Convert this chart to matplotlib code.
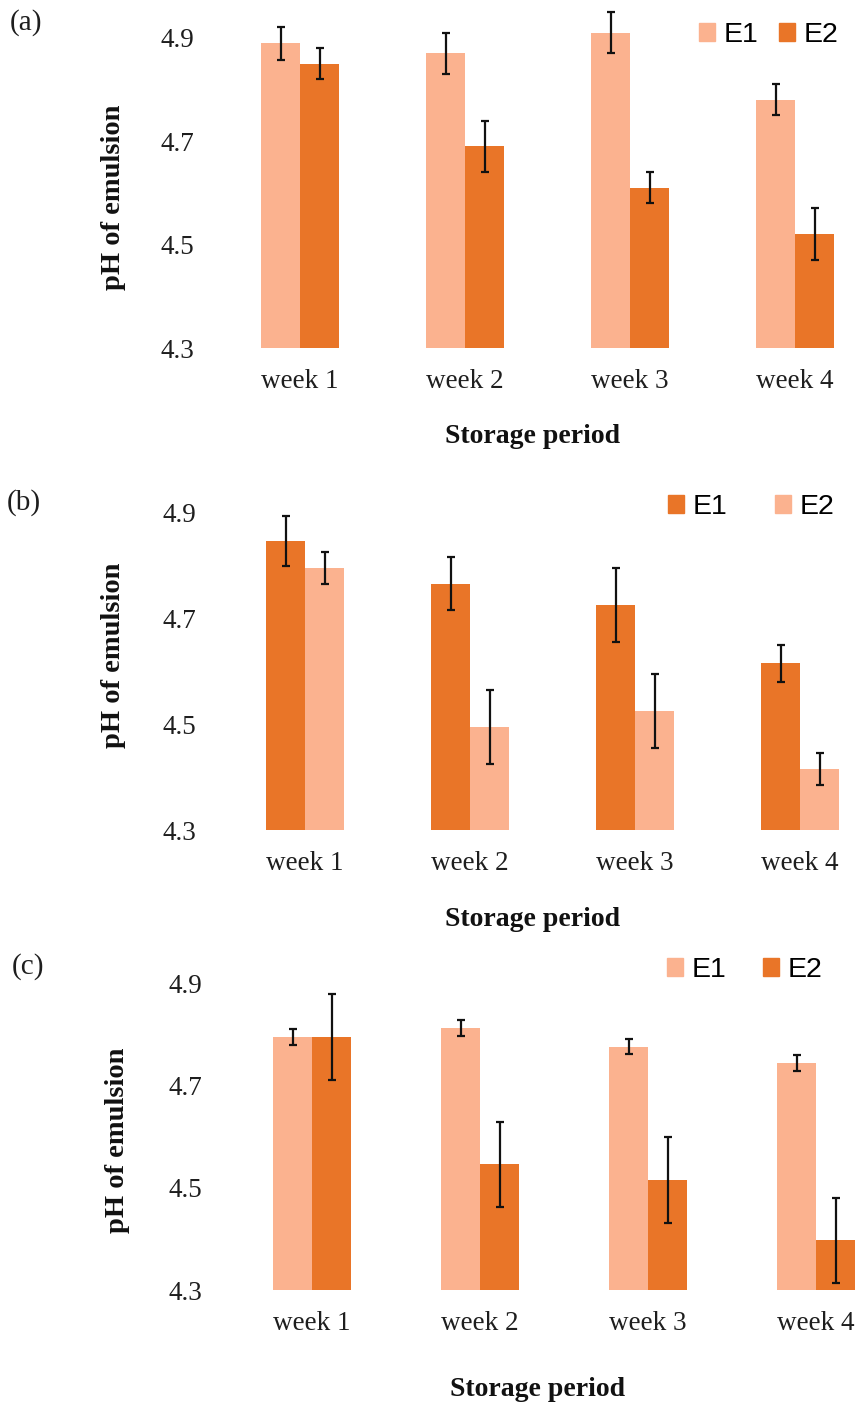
import numpy as np
import matplotlib
matplotlib.use("Agg")
import matplotlib.pyplot as plt
from matplotlib.patches import Patch

# pH of emulsion over four weeks of storage, three formulations
weeks = ['week 1', 'week 2', 'week 3', 'week 4']

a_e1 = [4.89, 4.87, 4.91, 4.78]
a_e1_err = [0.032, 0.04, 0.04, 0.03]
a_e2 = [4.85, 4.69, 4.61, 4.52]
a_e2_err = [0.03, 0.05, 0.03, 0.05]

b_e1 = [4.845, 4.765, 4.725, 4.615]
b_e1_err = [0.047, 0.05, 0.07, 0.035]
b_e2 = [4.795, 4.495, 4.525, 4.415]
b_e2_err = [0.03, 0.07, 0.07, 0.03]

c_e1 = [4.795, 4.813, 4.776, 4.744]
c_e1_err = [0.015, 0.016, 0.015, 0.015]
c_e2 = [4.795, 4.546, 4.515, 4.397]
c_e2_err = [0.085, 0.083, 0.084, 0.083]

light = '#FBB28F'
dark = '#E97528'

W, H = 858, 1408
fig = plt.figure(figsize=(W / 100, H / 100), dpi=100)

serif = 'Liberation Serif'
sans = 'Liberation Sans'


def fx(x):
    return x / W


def fy(y):
    return 1 - y / H


def panel(e1, e1_err, e2, e2_err, c1, c2, lay):
    # lay: left px, right px, first centre px, spacing px, baseline px, px per pH unit
    left, right, c0, step, base, scale = lay
    top_val = 4.98
    top_px = base - (top_val - 4.3) * scale
    ax = fig.add_axes([fx(left), fy(base), fx(right) - fx(left), (base - top_px) / H])
    x = np.arange(len(weeks))
    w = 39 / step
    ekw = dict(ecolor='#111111', elinewidth=1.6, capsize=3.2, capthick=1.6)
    ax.bar(x - w / 2, np.array(e1) - 4.3, w, bottom=4.3, color=c1,
           yerr=e1_err, error_kw=ekw, label='E1')
    ax.bar(x + w / 2, np.array(e2) - 4.3, w, bottom=4.3, color=c2,
           yerr=e2_err, error_kw=ekw, label='E2')
    ax.set_xlim((left - c0) / step, (right - c0) / step)
    ax.set_ylim(4.3, top_val)
    ax.set_yticks([4.3, 4.5, 4.7, 4.9])
    ax.set_yticklabels(['4.3', '4.5', '4.7', '4.9'])
    ax.set_xticks(x)
    ax.set_xticklabels(weeks)
    for s in ax.spines.values():
        s.set_visible(False)
    ax.tick_params(axis='both', length=0, labelsize=19.5, labelcolor='#1e1e1e')
    ax.tick_params(axis='y', pad=11)
    ax.tick_params(axis='x', pad=15)
    for t in ax.get_xticklabels() + ax.get_yticklabels():
        t.set_fontfamily(serif)
    return ax


layouts = [
    (210, 855, 300, 165, 348, 516.7),
    (212, 855, 305, 165, 830, 530),
    (218, 858, 312, 168, 1290, 511),
]

axa = panel(a_e1, a_e1_err, a_e2, a_e2_err, light, dark, layouts[0])
axb = panel(b_e1, b_e1_err, b_e2, b_e2_err, dark, light, layouts[1])
axc = panel(c_e1, c_e1_err, c_e2, c_e2_err, light, dark, layouts[2])

# panel tags
for tag, x, y in [('(a)', 10, 23), ('(b)', 7, 503), ('(c)', 12, 967)]:
    fig.text(fx(x), fy(y), tag, fontsize=21, family=serif, va='center', ha='left', color='#1e1e1e')

# axis titles
for x, y in [(113, 197), (113, 655), (118, 1140)]:
    fig.text(fx(x), fy(y), 'pH of emulsion', rotation=90, fontsize=20.5, fontweight='bold',
             family=serif, ha='center', va='center', color='#111111')
for x, y in [(533, 437), (533, 920), (538, 1390)]:
    fig.text(fx(x), fy(y), 'Storage period', fontsize=20, fontweight='bold',
             family=serif, ha='center', va='center', color='#111111')

# legends
for c1, c2, x, y, gap in [(light, dark, 699, 35, 0.75), (dark, light, 668, 507, 1.7),
                          (light, dark, 667, 970, 1.3)]:
    handles = [Patch(color=c1, label='E1'), Patch(color=c2, label='E2')]
    fig.legend(handles=handles, loc='center left', bbox_to_anchor=(fx(x), fy(y)),
               ncol=2, frameon=False, borderpad=0, borderaxespad=0,
               handlelength=0.55, handleheight=0.55, handletextpad=0.3,
               columnspacing=gap, prop={'family': sans, 'size': 20.5})

fig.savefig('out.png', dpi=100, facecolor='white')
